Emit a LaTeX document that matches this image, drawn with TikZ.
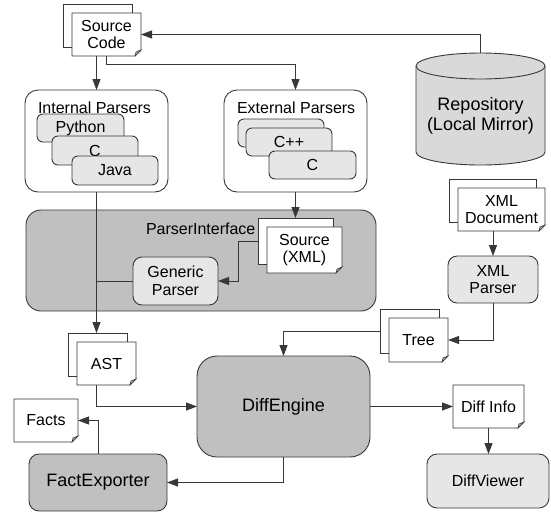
\documentclass[tikz,border=0pt]{standalone}
\usepackage{fontspec}
\setmainfont{Liberation Sans}
\usetikzlibrary{arrows.meta}

\definecolor{linec}{HTML}{383838}
\definecolor{darkgr}{HTML}{C0C0C0}
\definecolor{lightgr}{HTML}{E6E6E6}
\definecolor{repofill}{HTML}{D9D9D9}
\definecolor{foldc}{HTML}{B0B0B0}

\tikzset{
  basefont/.style={font=\fontsize{16}{17.5}\selectfont},
  bigfont/.style={font=\fontsize{18}{19.5}\selectfont},
  every node/.style={inner sep=0pt, outer sep=0pt, align=center, text=black, basefont},
  outline/.style={draw=linec, line width=0.9pt},
  container/.style={outline, fill=white, rounded corners=13pt},
  lightbox/.style={outline, fill=lightgr, rounded corners=6pt},
  procbox/.style={outline, fill=lightgr, rounded corners=9pt},
  bigbox/.style={outline, fill=darkgr, rounded corners=#1},
  docline/.style={outline, fill=white},
  foldline/.style={draw=linec, line width=0.6pt, fill=foldc},
  doctext/.style={draw=none, fill=none},
  conn/.style={draw=linec, line width=0.9pt},
  arr/.style={conn, -{Triangle[length=11pt,width=8pt]}},
}

% document sheet: [stack] name, cx, cy, w, h, text
\newcommand{\docpaper}[7][]{%
  \pgfmathsetmacro\docL{#3-#5/2}\pgfmathsetmacro\docR{#3+#5/2}%
  \pgfmathsetmacro\docT{#4-#6/2}\pgfmathsetmacro\docB{#4+#6/2}%
  \ifx&#1&\else \filldraw[docline] (\docL-9,\docT-9) rectangle (\docR-9,\docB-9);\fi
  \filldraw[docline] (\docL,\docT) -- (\docR,\docT) -- (\docR,\docB-6) -- (\docR-6,\docB) -- (\docL,\docB) -- cycle;
  \filldraw[foldline] (\docR,\docB-6) -- (\docR-6,\docB) -- (\docR-5,\docB-4) -- cycle;
  \node[doctext, minimum width=#5, minimum height=#6] (#2) at (#3,#4) {#7};
}

\begin{document}
\begin{tikzpicture}[x=1pt,y=-1pt]
\fill[white] (0,0) rectangle (551,512);
\useasboundingbox (0,0) rectangle (551,512);

% containers
\node[container, minimum width=143, minimum height=102] (intp) at (96.5,141) {};
\node[anchor=base west] (intplabel) at (38,113.5) {Internal Parsers};
\node[lightbox, minimum width=87, minimum height=28] (python) at (80.5,128) {Python};
\node[lightbox, minimum width=86, minimum height=29] (cint) at (95,150.5) {C};
\node[lightbox, minimum width=86, minimum height=29] (java) at (115,170.5) {Java};

\node[container, minimum width=143, minimum height=102] (extp) at (295.5,141) {};
\node[anchor=base west] (extplabel) at (237,113.5) {External Parsers};
\node[lightbox, minimum width=86, minimum height=28] (extblank) at (281,133) {};
\node[lightbox, minimum width=86, minimum height=28] (cpp) at (289,142) {C++};
\node[lightbox, minimum width=87, minimum height=28] (cext) at (312.5,165) {C};

% parser interface
\node[bigbox=15pt, minimum width=350, minimum height=101] (pif) at (201,260.5) {};
\node[anchor=base west] (piflabel) at (146,234.5) {ParserInterface};
\node[procbox, minimum width=85, minimum height=48] (generic) at (175.5,281) {Generic\\Parser};

% repository cylinder
\fill[repofill] (416,66) -- (416,152) arc[start angle=180,end angle=0,x radius=64.5,y radius=13] -- (545,66) -- cycle;
\draw[outline] (416,66) -- (416,152) arc[start angle=180,end angle=0,x radius=64.5,y radius=13] -- (545,66);
\filldraw[outline, fill=repofill] (480.5,66) ellipse[x radius=64.5,y radius=13];
\node[minimum width=129, minimum height=112] (repo) at (480.5,109) {};
\node[bigfont] (repotext) at (480.5,116) {Repository\\(Local Mirror)};

% documents
\docpaper[s]{src}{106.5}{34.5}{69}{43}{Source\\Code}
\docpaper[s]{srcxml}{304.5}{250}{75}{46}{Source\\(XML)}
\docpaper[s]{xmldoc}{501.5}{209.5}{87}{43}{XML\\Document}
\docpaper[s]{tree}{418.5}{340}{59}{44}{Tree}
\docpaper[s]{ast}{106.5}{363.5}{59}{43}{AST}
\docpaper{facts}{46}{420.5}{64}{43}{Facts}
\docpaper{diffinfo}{488.5}{406.5}{71}{43}{Diff Info}

% processes
\node[procbox, minimum width=90, minimum height=47] (xmlparser) at (493,279.5) {XML\\Parser};
\node[bigbox=20pt, minimum width=173, minimum height=101, bigfont] (diffengine) at (283.5,406.5) {DiffEngine};
\node[bigbox=10pt, minimum width=138, minimum height=57, bigfont] (factexp) at (98,482.5) {FactExporter};
\node[procbox, rounded corners=10pt, minimum width=122, minimum height=54] (diffviewer) at (488,481) {DiffViewer};

% helper coordinates on back sheets
\coordinate (srcxmlbackn) at ([shift={(-9pt,9pt)}]srcxml.north);
\coordinate (srcxmlbackw) at ([shift={(-9pt,9pt)}]srcxml.west);
\coordinate (treebackw) at ([shift={(-9pt,9pt)}]tree.west);
\coordinate (astbackn) at ([shift={(-9pt,9pt)}]ast.north);

% connectors
\draw[arr] (repo.north) |- (src.east);
\draw[arr] (src.south -| intp.north) -- (intp.north);
\draw[arr] (src.south) -- ++(0,8) -| (extp.north);
\draw[arr] (extp.south) -- (extp.south |- srcxmlbackn);
\draw[arr] (srcxmlbackw) -- ++(-20,0) |- (generic.east);
\draw[conn] (generic.west) -- (generic.west -| intp.south);
\draw[arr] (intp.south) -- (intp.south |- astbackn);
\draw[arr] (ast.south -| intp.south) |- (diffengine.west);
\draw[arr] (diffengine.east) -- (diffinfo.west);
\draw[arr] (diffinfo.south) -- (diffinfo.south |- diffviewer.north);
\draw[arr] (diffengine.south) |- (factexp.east);
\draw[arr] (factexp.north) |- (facts.east);
\draw[arr] (xmlparser.north |- xmldoc.south) -- (xmlparser.north);
\draw[arr] (xmlparser.south) |- (tree.east);
\draw[arr] (treebackw) -| (diffengine.north);
\end{tikzpicture}
\end{document}
